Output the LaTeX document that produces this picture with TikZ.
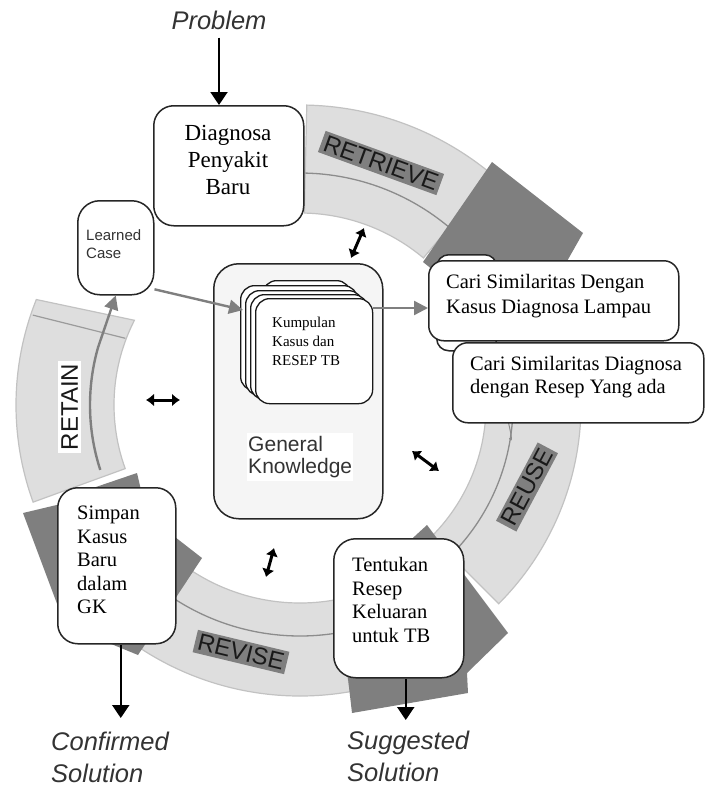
\documentclass[tikz,border=0pt]{standalone}
\usepackage{fontspec}
\setmainfont{Liberation Serif}
\setsansfont{Liberation Sans}
\usetikzlibrary{arrows.meta}
\definecolor{band}{HTML}{DEDEDE}
\definecolor{bandedge}{HTML}{C2C2C2}
\definecolor{divider}{HTML}{8C8C8C}
\definecolor{headgray}{HTML}{7F7F7F}
\definecolor{gkfill}{HTML}{F5F5F5}
\definecolor{labgray}{HTML}{333333}
\begin{document}
\begin{tikzpicture}[x=1pt,y=-1pt,
  bandsty/.style={fill=band, draw=bandedge, line width=1.2pt},
  divsty/.style={draw=divider, line width=1.3pt},
  headsty/.style={fill=headgray, draw=none},
  box/.style={draw=black!85, line width=1.5pt, fill=white, rounded corners=20pt, inner sep=0pt, anchor=north west},
  card/.style={draw=black!90, line width=1.3pt, fill=white, rounded corners=14pt, inner sep=0pt, anchor=north west, minimum width=117pt, minimum height=105pt},
  serif/.style={font=\fontsize{20.5}{23.4}\selectfont, align=left, anchor=west, inner sep=0pt},
  steplabel/.style={font=\sffamily\fontsize{24}{24}\selectfont, text=black!90, inner xsep=3pt, inner ysep=3pt},
  io/.style={font=\sffamily\itshape\fontsize{25.5}{32}\selectfont, text=labgray, align=left, inner sep=0pt},
  blackarrow/.style={-{Triangle[length=13pt,width=17pt]}, line width=2pt, draw=black},
  grayarrow/.style={-{Triangle[length=14pt,width=14pt]}, line width=2.4pt, draw=headgray},
  dbl/.style={{Latex[length=8pt,width=13pt]}-{Latex[length=8pt,width=13pt]}, line width=3pt},
]
\useasboundingbox (0,0) rectangle (705,787);

% ---- ring bands ----
\begin{scope}[shift={(300,405)}]
  % RETRIEVE
  \path[bandsty] (-88.7:300) arc[start angle=-88.7, end angle=-50, radius=300]
     -- (-50:192) arc[start angle=-50, end angle=-88.7, radius=192] -- cycle;
  \draw[divsty] (-88.7:232) arc[start angle=-88.7, end angle=-50, radius=232];
  % REUSE
  \path[bandsty] (-5:281) arc[start angle=-5, end angle=45, radius=281]
     -- (45:186) arc[start angle=45, end angle=-5, radius=186] -- cycle;
  \draw[divsty] (-3:213) arc[start angle=-3, end angle=45, radius=213];
  \draw[divsty, line width=1pt] (-2:200) to[out=95, in=-60] (9:212);
  % REVISE
  \path[bandsty] (80:291) arc[start angle=80, end angle=123, radius=291]
     -- (123:198) arc[start angle=123, end angle=80, radius=198] -- cycle;
  \draw[divsty] (80:231) arc[start angle=80, end angle=123, radius=231];
  % RETAIN
  \path[bandsty] (160:284) arc[start angle=160, end angle=201.8, radius=284]
     -- (207.1:186) arc[start angle=207.1, end angle=160, radius=186] -- cycle;
  \draw[draw=bandedge!80!black, line width=1.2pt] (198.6:282) -- (200.9:187);
  \coordinate (retainstart) at (162:210);
\end{scope}

% ---- dark arrow heads ----
\fill[headsty] (423,262) -- (492,162) -- (583,233) -- (545,300) -- (470,300) -- cycle;
\fill[headsty] (427,525) -- (508,633) -- (467,673) -- (468,693) -- (352,713) -- (347,670) -- (345,600) -- cycle;
\fill[headsty] (23,513) -- (65,503) -- (90,489) -- (137,473) -- (141,490) -- (175,537) -- (202,558) -- (138,655) -- (65,625) -- cycle;

% ---- step labels ----
\node[steplabel, fill=headgray, rotate=-20] (retrieve) at (381,163) {RETRIEVE};
\node[steplabel, fill=headgray, rotate=62] (reuse) at (527,487) {REUSE};
\node[steplabel, fill=headgray, rotate=-13.5] (revise) at (241,652) {REVISE};
\node[steplabel, fill=white, rotate=90] (retain) at (69.5,407) {RETAIN};

% ---- general knowledge ----
\node[box, fill=gkfill, rounded corners=25pt, minimum width=169pt, minimum height=255pt] (gk) at (213,263) {};
\node[card, minimum width=88pt, minimum height=100pt] (cardA) at (262,280) {};
\node[card] (cardB) at (240,285) {};
\node[card] (cardC) at (245,290) {};
\node[card] (cardD) at (250,294) {};
\node[card] (front) at (255,298) {};
\node[serif, font=\fontsize{15}{19}\selectfont] (kumpul) at (272,341) {Kumpulan\\Kasus dan\\RESEP TB};
\node[font=\sffamily\fontsize{21}{22.5}\selectfont, text=labgray, fill=white, align=left, anchor=west,
      inner xsep=1pt, inner ysep=3pt, minimum width=106pt] (gktext) at (247,457) {General\\Knowledge};

% ---- boxes ----
\node[box, minimum width=150pt, minimum height=120pt] (diag) at (153,105) {};
\node[font=\fontsize{23}{27}\selectfont, align=center, inner sep=0pt] (diagtxt) at (228,160) {Diagnosa\\Penyakit\\Baru};

\node[box, rounded corners=22pt, minimum width=76pt, minimum height=94pt] (learned) at (77,200) {};
\node[font=\sffamily\fontsize{15}{17.5}\selectfont, text=labgray, align=left, anchor=west, inner sep=0pt] (learnedtxt) at (86,244) {Learned\\Case};

\node[box, rounded corners=12pt, minimum width=60pt, minimum height=96pt] (cari0) at (436,254) {};
\node[box, rounded corners=15pt, minimum width=250pt, minimum height=80pt] (cari1) at (428,260) {};
\node[serif, font=\fontsize{20.5}{25}\selectfont] (cari1txt) at (446,296) {Cari Similaritas Dengan\\Kasus Diagnosa Lampau};
\node[box, rounded corners=15pt, minimum width=251pt, minimum height=80pt] (cari2) at (452,342) {};
\node[serif, font=\fontsize{20.5}{23.5}\selectfont] (cari2txt) at (470,377) {Cari Similaritas Diagnosa\\dengan Resep Yang ada};

\node[box, rounded corners=22pt, minimum width=130pt, minimum height=139pt] (tentukan) at (333,538) {};
\node[serif] (tentukantxt) at (352,600) {Tentukan\\Resep\\Keluaran\\untuk TB};

\node[box, rounded corners=20pt, minimum width=118pt, minimum height=156pt] (simpan) at (57,487) {};
\node[serif, font=\fontsize{20.5}{23.5}\selectfont] (simpantxt) at (77,560) {Simpan\\Kasus\\Baru\\dalam\\GK};

% ---- in/out labels ----
\node[io, anchor=center] (problem) at (219,20) {Problem};
\node[io, anchor=west] (suggested) at (347,756) {Suggested\\Solution};
\node[io, anchor=west] (confirmed) at (51,757) {Confirmed\\Solution};

% ---- connectors ----
\draw[blackarrow, shorten <=8pt] (problem.south) -- (problem.south |- diag.north);
\draw[blackarrow] ([xshift=4pt]simpan.south) -- ([xshift=4pt]simpan.south |- 0,718);
\draw[blackarrow] ([xshift=7pt]tentukan.south) -- ([xshift=7pt]tentukan.south |- 0,720);

\coordinate (stackin) at (243,310);
\coordinate (lvl) at (0,308);
\draw[grayarrow] (learned.-47) -- (stackin);
\draw[grayarrow] (front.east |- lvl) -- (cari1.west |- lvl);
\draw[grayarrow] (retainstart) arc[start angle=162, end angle=196, radius=210] -- (learned.south);

% ---- double arrows ----
\coordinate (d1a) at (351,258); \coordinate (d1b) at (364,228);
\coordinate (d2a) at (146,400); \coordinate (d2b) at (180,400);
\coordinate (d3a) at (412,451); \coordinate (d3b) at (439,471);
\coordinate (d4a) at (266,577); \coordinate (d4b) at (274,548);
\draw[dbl] (d1a) -- (d1b);
\draw[dbl] (d2a) -- (d2b);
\draw[dbl] (d3a) -- (d3b);
\draw[dbl] (d4a) -- (d4b);
\end{tikzpicture}
\end{document}
